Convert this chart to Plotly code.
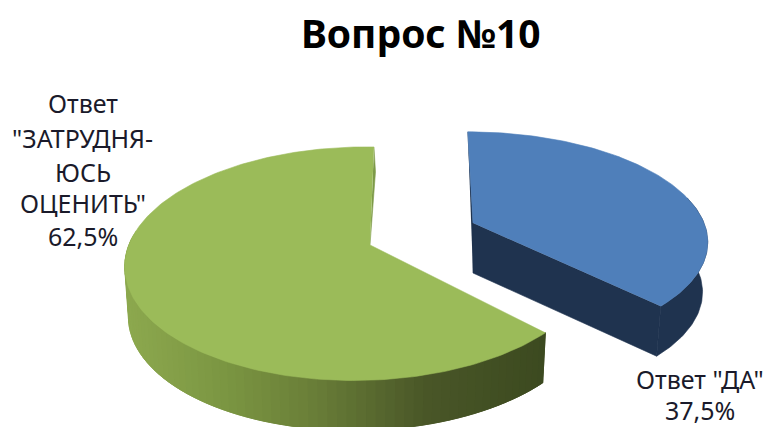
import numpy as np
import plotly.graph_objects as go

title = "Вопрос №10"
categories = ['Ответ "ДА"', 'Ответ "ЗАТРУДНЯЮСЬ ОЦЕНИТЬ"']
values = [37.5, 62.5]
label_lines = [['Ответ "ДА"', "37,5%"],
               ["Ответ", '"ЗАТРУДНЯ-', "ЮСЬ", 'ОЦЕНИТЬ"', "62,5%"]]

W, H = 768, 427
# projection of each slice (pixel canvas): apex, x/y scale, perspective, shear, depth
blue_view = dict(ax=473, ay=223, a=231, b=105, k=0.152, m=0.0, s=-6, d=50, sx=0.978)
green_view = dict(ax=370, ay=245, a=231.5, b=113.7, k=0.16, m=0.04, s=4.6, d=50, sx=0.985)

BLUE_TOP, BLUE_SIDE, BLUE_EDGE = "#4f7fba", "#1f334f", "#1f334f"
GREEN_TOP, GREEN_EDGE = "#9bbb59", "#7d9a48"
GRAD_POS = [0.0, 0.21, 0.42, 0.7, 1.0]
GRAD_RGB = [(140, 168, 78), (124, 151, 67), (107, 128, 57), (74, 87, 40), (60, 74, 32)]


def rim(theta, v, depth=False):
    """Project a point at clockwise angle theta (radians from 12 o'clock) on the pie rim."""
    u_, v_ = np.sin(theta), np.cos(theta)
    w = 1 + v["k"] * v_ + v["m"] * u_
    x = (v["a"] * u_ + v["s"] * v_) / w
    y = -v["b"] * v_ / w
    if depth:
        x = x * v["sx"]
        y = y + v["d"]
    return v["ax"] + x, v["ay"] + y


def poly(fig, xs, ys, color):
    fig.add_trace(go.Scatter(x=list(xs), y=list(ys), mode="lines", fill="toself",
                             fillcolor=color, line=dict(color=color, width=0.6),
                             hoverinfo="skip", showlegend=False))


def grad(t):
    c = [np.interp(t, GRAD_POS, [g[i] for g in GRAD_RGB]) for i in range(3)]
    return "rgb(%d,%d,%d)" % tuple(c)


fig = go.Figure()
ang = np.cumsum([0] + values) / sum(values) * 2 * np.pi

# green slice: side wall drawn from the left extreme to the cut, each strip overlapping the next
t0, t1 = ang[1], ang[2]
n = 70
edges = np.linspace(1.54 * np.pi, t0, n + 1)
x_left = rim(1.5 * np.pi, green_view)[0]
x_right = rim(t0, green_view)[0]
for i in range(n):
    tt = np.linspace(edges[i], edges[min(i + 3, n)], 5)
    xa, ya = rim(tt, green_view)
    xb, yb = rim(tt[::-1], green_view, True)
    t_mid = rim(edges[i], green_view)[0]
    poly(fig, np.r_[xa, xb], np.r_[ya, yb], grad((t_mid - x_left) / (x_right - x_left)))
tt = np.linspace(t0, t1, 200)
xa, ya = rim(tt, green_view)
# narrow inner wall visible beside the top edge
rx, ry = rim(t1, green_view)
poly(fig, [rx, rx + 1.5, green_view["ax"]], [ry, ry + 25, green_view["ay"]], GREEN_EDGE)
poly(fig, np.r_[green_view["ax"], xa], np.r_[green_view["ay"], ya], GREEN_TOP)

# blue slice
t0, t1 = ang[0], ang[1]
tt = np.linspace(np.pi * 0.42, t1, 60)
xa, ya = rim(tt, blue_view)
xb, yb = rim(tt[::-1], blue_view, True)
poly(fig, np.r_[xa, xb], np.r_[ya, yb], BLUE_SIDE)
ex, ey = rim(t1, blue_view)
ebx, eby = rim(t1, blue_view, True)
bax, bay = blue_view["ax"], blue_view["ay"]
poly(fig, [bax, ex, ebx, bax], [bay, ey, eby, bay + blue_view["d"]], BLUE_SIDE)
rx, ry = rim(t0, blue_view)
poly(fig, [rx, bax, bax], [ry, bay, bay + blue_view["d"]], BLUE_EDGE)
tt = np.linspace(t0, t1, 120)
xa, ya = rim(tt, blue_view)
poly(fig, np.r_[bax, xa], np.r_[bay, ya], BLUE_TOP)

# data labels
label_pos = [(700, [379, 410]), (82.5, [103, 138, 172, 203, 236])]
for lines, (lx, lys) in zip(label_lines, label_pos):
    for line, ly in zip(lines, lys):
        fig.add_annotation(x=lx, y=ly, text=line, showarrow=False, xanchor="center",
                           yanchor="middle", font=dict(family="Noto Sans", size=25, color="#1a1a2a"))

fig.update_layout(
    width=W, height=H, margin=dict(l=0, r=0, t=0, b=0),
    paper_bgcolor="white", plot_bgcolor="white", showlegend=False,
    xaxis=dict(range=[0, W], visible=False, fixedrange=True),
    yaxis=dict(range=[H, 0], visible=False, fixedrange=True),
)
fig.add_annotation(x=421, y=32, text="<b>%s</b>" % title, showarrow=False, xanchor="center",
                   yanchor="middle", font=dict(family="Noto Sans", size=39, color="black"))
fig.write_html("out.html", config=dict(displayModeBar=False),
               post_script="document.body.style.margin='0';document.body.style.overflow='hidden';")
